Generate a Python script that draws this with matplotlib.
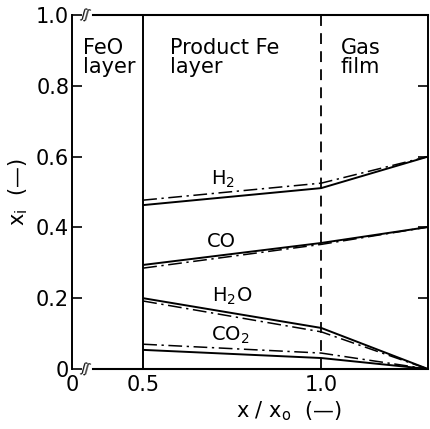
import numpy as np
import matplotlib
matplotlib.use("Agg")
import matplotlib.pyplot as plt

# x positions: FeO/Fe interface, Fe/gas film interface, bulk gas
x_pts = [0.5, 1.0, 1.3]

# mole fractions, solid = calculated, dash-dot = second case
h2_solid = [0.463, 0.511, 0.600]
h2_dash = [0.477, 0.525, 0.600]
co_solid = [0.294, 0.356, 0.401]
co_dash = [0.285, 0.352, 0.401]
h2o_solid = [0.200, 0.116, 0.0]
h2o_dash = [0.192, 0.105, 0.0]
co2_solid = [0.054, 0.031, 0.0]
co2_dash = [0.070, 0.045, 0.0]

species_labels = ['H$_2$', 'CO', 'H$_2$O', 'CO$_2$']
label_pos = [(0.723, 0.52), (0.72, 0.345), (0.749, 0.19), (0.743, 0.08)]

xticks = [0.3, 0.5, 1.0]
xticklabels = ['0', '0.5', '1.0']
yticks = [0, 0.2, 0.4, 0.6, 0.8, 1.0]
yticklabels = ['0', '0.2', '0.4', '0.6', '0.8', '1.0']

plt.rcParams['font.family'] = 'DejaVu Sans'

fig = plt.figure(figsize=(4.30, 4.29), dpi=100)
ax = fig.add_axes([72/430, 1 - 369/429, 356/430, 354/429])

solids = [h2_solid, co_solid, h2o_solid, co2_solid]
dashes = [h2_dash, co_dash, h2o_dash, co2_dash]
for s, d in zip(solids, dashes):
   ax.plot(x_pts, s, color='black', lw=1.4, solid_capstyle='butt')
   ax.plot(x_pts, d, color='black', lw=1.1, linestyle=(0, (9, 3, 1.5, 3)))

for lab, (lx, ly) in zip(species_labels, label_pos):
   ax.text(lx, ly, lab, fontsize=14, ha='center', va='baseline')

# layer boundaries
ax.axvline(0.5, color='black', lw=1.4)
ax.axvline(1.0, color='black', lw=1.3, linestyle=(0, (6, 4)))

ax.text(0.331, 0.935, 'FeO\nlayer', fontsize=15, va='top', linespacing=0.95)
ax.text(0.574, 0.935, 'Product Fe\nlayer', fontsize=15, va='top', linespacing=0.95)
ax.text(1.055, 0.935, 'Gas\nfilm', fontsize=15, va='top', linespacing=0.95)

ax.set_xlim(0.3, 1.3)
ax.set_ylim(0, 1.0)
ax.set_xticks(xticks)
ax.set_xticklabels(xticklabels)
ax.set_yticks(yticks)
ax.set_yticklabels(yticklabels)
ax.tick_params(direction='in', length=7, width=1.2, labelsize=15, pad=2,
               right=True, top=False)
ax.tick_params(axis='x', length=0, pad=4)

# broken top and bottom spines near the origin
ax.spines['top'].set_visible(False)
ax.spines['bottom'].set_visible(False)
for sp in ['left', 'right']:
   ax.spines[sp].set_linewidth(1.4)
for yy in [0, 1]:
   ax.plot([0.06, 1], [yy, yy], transform=ax.transAxes, color='black',
           lw=1.5, clip_on=False)
   ax.text(0.038, yy, 'ʃʃ', transform=ax.transAxes, fontsize=9,
           ha='center', va='center', rotation=-15)

ax.set_xlabel('x / x$_\\mathrm{o}$  (—)', fontsize=15, labelpad=4)
ax.xaxis.set_label_coords(0.61, -0.085)
ax.set_ylabel('x$_\\mathrm{i}$  (—)', fontsize=15, labelpad=4)

fig.savefig('out.png', dpi=100)
